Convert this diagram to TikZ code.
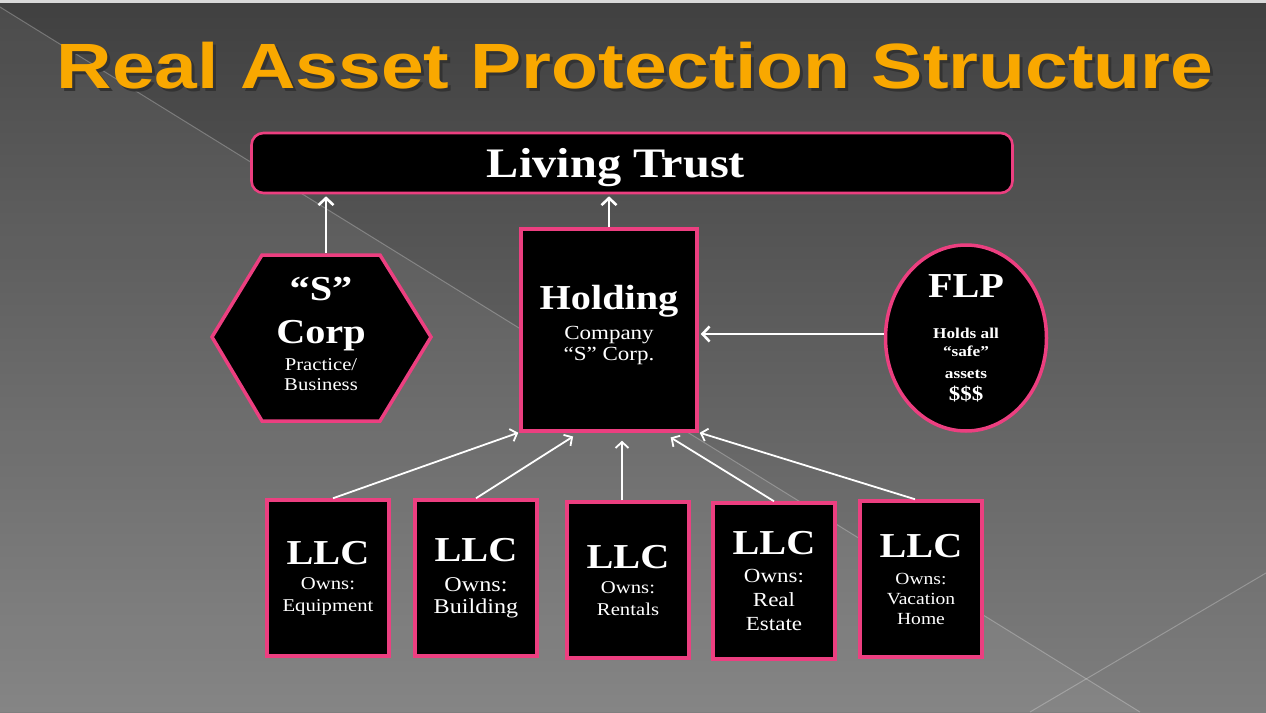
\documentclass[tikz,border=0pt]{standalone}
\usepackage{fontspec}
\setmainfont[FakeStretch=1.15]{Liberation Serif}
\newfontfamily\titlefont[FakeStretch=1.2]{Liberation Sans}
\usetikzlibrary{arrows.meta, shapes.geometric}
\definecolor{bgtop}{HTML}{404040}
\definecolor{bgmid}{HTML}{5A5A5A}
\definecolor{bgbot}{HTML}{7E7E7E}
\definecolor{hotpink}{HTML}{EC3F80}
\definecolor{titleorange}{HTML}{F9A800}
\newcommand{\bigword}[1]{{\fontsize{35}{43}\selectfont\bfseries #1}}
\newcommand{\smallsize}[2]{\fontsize{#1}{#2}\selectfont}
\newcommand{\shadowed}[1]{\makebox[0pt][l]{\hspace*{3pt}\raisebox{-3pt}{\color{black!80}#1}}#1}

\begin{document}
\begin{tikzpicture}[x=1pt, y=-1pt,
  box/.style={draw=hotpink, line width=3.5pt, fill=black, text=white, align=center, inner sep=0pt},
  llc/.style={box, minimum width=122pt, minimum height=156pt},
  arr/.style={draw=white, line width=2.6pt, -{Straight Barb[length=7pt, width=15pt]}},
  feed/.style={arr, line width=1.8pt, -{Straight Barb[length=6pt, width=13pt]}}]
\useasboundingbox (0,0) rectangle (1266,712);
% slide background
\shade[top color=bgtop, middle color=bgmid, bottom color=bgbot] (0,0) rectangle (1266,712);
\fill[white, opacity=0.06] (0,7) -- (1140,712) -- (0,712) -- cycle;
\draw[white, opacity=0.25, line width=1pt] (0,7) -- (1140,712);
\draw[white, opacity=0.25, line width=1pt] (1030,712) -- (1266,573);
\draw[white!85!black, line width=3pt] (0,1) -- (1266,1);
% title
\node[text=titleorange, font=\titlefont\bfseries\fontsize{64}{64}\selectfont, text depth=0pt] (title) at (635,65) {\shadowed{Real Asset Protection Structure}};
% top level
\node[box, line width=2.6pt, rounded corners=12pt, minimum width=761pt, minimum height=60pt, text depth=0pt, font=\fontsize{42}{42}\selectfont\bfseries] (trust) at (632,163) {Living Trust\hspace*{32pt}};
% practice corporation (hexagon)
\draw[hotpink, line width=3.5pt, fill=black] (212,337) -- (262,255) -- (380,255) -- (431,337) -- (380,421) -- (262,421) -- cycle;
\coordinate (hextop) at (326,253);
\node[text=white, align=center, font=\smallsize{18}{20}] (scorp) at (321,334) {\bigword{“S”}\\[18pt]\bigword{Corp}\\[7pt]Practice/\\Business};
% holding company
\node[box, minimum width=176pt, minimum height=202pt, text depth=14pt, font=\smallsize{20}{21}] (holding) at (609,330) {\bigword{Holding}\\[9pt]Company\\“S” Corp.};
% family limited partnership
\node[box, ellipse, minimum width=161pt, minimum height=186pt, font=\smallsize{15}{22}\bfseries] (flp) at (966,338) {\bigword{FLP}\\[19pt]Holds all\\[-4pt]“safe”\\assets\\{\smallsize{20}{22}\$\$\$}};
% LLCs
\node[llc, font=\smallsize{18}{22}] (llc1) at (328,578) {\bigword{LLC}\\[3pt]Owns:\\Equipment};
\node[llc, font=\smallsize{21}{22}] (llc2) at (476,578) {\bigword{LLC}\\[8pt]Owns:\\Building};
\node[llc, font=\smallsize{18}{22}] (llc3) at (628,580) {\bigword{LLC}\\[3pt]Owns:\\Rentals};
\node[llc, font=\smallsize{20}{24}] (llc4) at (774,581) {\bigword{LLC}\\[4pt]Owns:\\Real\\Estate};
\node[llc, font=\smallsize{17}{20}] (llc5) at (921,579) {\bigword{LLC}\\[7pt]Owns:\\Vacation\\Home};
% ownership arrows
\draw[arr, shorten >=2pt] (hextop) -- (hextop |- trust.south);
\draw[arr, shorten >=2pt] (holding.north) -- (holding.north |- trust.south);
\draw[arr, shorten >=2pt] ([yshift=4pt]flp.west) -- ([yshift=4pt]flp.west -| holding.east);
\draw[feed] ([xshift=5pt]llc1.north) -- ([xshift=-1pt]holding.south west);
\draw[feed, shorten >=7pt] (llc2.north) -- ([xshift=-30pt]holding.south);
\draw[feed, shorten >=8pt] ([xshift=-6pt]llc3.north) -- ([xshift=13pt]holding.south);
\draw[feed, shorten >=9pt] (llc4.north) -- ([xshift=54pt]holding.south);
\draw[feed] ([xshift=-6pt]llc5.north) -- ([xshift=1pt]holding.south east);
\end{tikzpicture}
\end{document}
